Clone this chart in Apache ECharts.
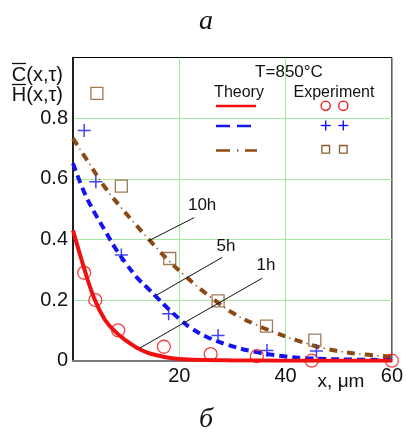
<!DOCTYPE html>
<html>
<head>
<meta charset="utf-8">
<script src="https://cdn.jsdelivr.net/npm/echarts@6/dist/echarts.min.js"></script>
<style>
  html, body { margin: 0; padding: 0; background: #fff; }
  #chart { width: 406px; height: 434px; }
</style>
</head>
<body>
<div id="chart"></div>
<script>
// tick labels (0 on x and 1.0 on y are not printed)
const xTickLabels = { 20: '20', 40: '40', 60: '60' }
const yTickLabels = { 0: '0', 0.2: '0.2', 0.4: '0.4', 0.6: '0.6', 0.8: '0.8' }

// theory curves, [x (um), C]
const theory1h = [[0, 0.43], [2, 0.31], [4, 0.205], [6, 0.135], [8, 0.095], [10, 0.066], [12, 0.043], [14, 0.027], [16, 0.017], [18, 0.01], [20, 0.006], [25, 0.002], [30, 0.001], [40, 0], [60, 0]]
const theory5h = [[0, 0.651], [2, 0.56], [4, 0.49], [6, 0.43], [8, 0.37], [10, 0.32], [12, 0.275], [14, 0.24], [16, 0.205], [18, 0.17], [20, 0.138], [22, 0.11], [25, 0.08], [29, 0.053], [34, 0.03], [39, 0.016], [44, 0.008], [52, 0.004], [60, 0.002]]
const theory10h = [[0, 0.733], [3, 0.652], [6, 0.572], [9, 0.506], [12, 0.445], [15, 0.386], [18, 0.33], [21, 0.281], [24, 0.236], [27, 0.195], [30, 0.158], [34, 0.122], [38, 0.093], [43, 0.062], [48, 0.038], [54, 0.022], [60, 0.014]]

// experiment points
const exp1h = [[2.1, 0.29], [4.2, 0.2], [8.5, 0.1], [17.1, 0.046], [25.9, 0.022], [34.6, 0.015], [44.9, 0], [60, 0]]
const exp5h = [[2.1, 0.759], [4.3, 0.59], [9.1, 0.349], [18, 0.155], [27.3, 0.083], [36.5, 0.034], [45.8, 0.032]]
const exp10h = [[4.5, 0.882], [9.1, 0.576], [18.2, 0.337], [27.3, 0.197], [36.4, 0.114], [45.5, 0.068]]

// annotation labels: text, text position, leader line from, leader line to
const notes = [
  { text: '10h', at: [24.3, 0.513], from: [22.8, 0.472], to: [14.2, 0.395] },
  { text: '5h', at: [28.8, 0.377], from: [28.1, 0.341], to: [15.8, 0.217] },
  { text: '1h', at: [36.3, 0.314], from: [35.6, 0.272], to: [12.5, 0.041] }
]

const RED = '#f01010'
const BLUE = '#1414f0'
const BROWN = '#8b4a14'
const SQ = '#8b5a2b'
const GREEN = '#a6e8a6'
const FONT = '"Liberation Sans", Arial, sans-serif'
const PLUS = 'path://M0,6L12,6M6,0L6,12'

const chart = echarts.init(document.getElementById('chart'), null, { renderer: 'canvas' })

const hollow = (c) => ({ color: 'rgba(0,0,0,0)', borderColor: c, borderWidth: 1.3 })

chart.setOption({
  animation: false,
  grid: { left: 73, right: 12, top: 57.5, bottom: 73.3, show: true, borderColor: '#000', borderWidth: 1 },
  xAxis: {
    type: 'value', min: 0, max: 60, interval: 20,
    axisLine: { show: true, onZero: false, lineStyle: { color: '#7a7a7a', width: 2 } },
    axisTick: { show: false },
    axisLabel: { color: '#111', fontSize: 20, fontFamily: FONT, margin: 6, formatter: (v) => xTickLabels[v] || '' },
    splitLine: { show: true, showMinLine: false, showMaxLine: false, lineStyle: { color: GREEN, width: 1 } }
  },
  yAxis: {
    type: 'value', min: 0, max: 1, interval: 0.2,
    axisLine: { show: true, onZero: false, lineStyle: { color: '#000', width: 1.5 } },
    axisTick: { show: false },
    axisLabel: { color: '#111', fontSize: 20, fontFamily: FONT, margin: 5, formatter: (v) => yTickLabels[Math.round(v * 10) / 10] || '' },
    splitLine: { show: true, showMinLine: false, showMaxLine: false, lineStyle: { color: GREEN, width: 1 } }
  },
  series: [
    {
      type: 'line', data: theory10h, smooth: 0.4, symbol: 'none',
      lineStyle: { color: BROWN, width: 4, type: [8, 10], cap: 'butt' }
    },
    {
      type: 'line', data: theory10h, smooth: 0.4, symbol: 'none',
      lineStyle: { color: BROWN, width: 1.3, type: [1.5, 16.5], dashOffset: -12.2 }
    },
    {
      type: 'line', data: theory5h, smooth: 0.4, symbol: 'none',
      lineStyle: { color: BLUE, width: 4, type: [8, 5], cap: 'butt' }
    },
    {
      type: 'line', data: theory1h, smooth: 0.4, symbol: 'none',
      lineStyle: { color: RED, width: 4 }
    },
    { type: 'scatter', data: exp1h, symbol: 'circle', symbolSize: 13, itemStyle: hollow(RED), clip: false, z: 5 },
    { type: 'scatter', data: exp5h, symbol: PLUS, symbolSize: 13, itemStyle: { color: 'none', borderColor: BLUE, borderWidth: 1.5 }, clip: false, z: 5 },
    { type: 'scatter', data: exp10h, symbol: 'rect', symbolSize: 12, itemStyle: hollow(SQ), clip: false, z: 5 }
  ]
})

// legend block, axis names and captions
const txt = (x, y, text, size, extra) => ({
  type: 'text', x, y, z: 20,
  style: Object.assign({ text, fill: '#111', font: `${size}px ${FONT}`, textAlign: 'center', textVerticalAlign: 'middle' }, extra || {})
})
const seg = (x1, y1, x2, y2, color, w) => ({
  type: 'line', z: 20, shape: { x1, y1, x2, y2 }, style: { stroke: color, lineWidth: w }
})

const graphics = [
  txt(206, 22, 'а', 28, { font: 'italic 28px "Liberation Serif", serif' }),
  txt(206, 420, 'б', 28, { font: 'italic 28px "Liberation Serif", serif' }),
  txt(63, 75, 'C(x,τ)', 20, { textAlign: 'right' }),
  txt(63, 95, 'H(x,τ)', 20, { textAlign: 'right' }),
  seg(12, 63.5, 26, 63.5, '#111', 1.3),
  seg(12, 84.5, 26, 84.5, '#111', 1.3),
  txt(341, 382, 'x, μm', 19),
  txt(289, 72, 'T=850°C', 17),
  txt(239, 93, 'Theory', 16),
  txt(334, 93, 'Experiment', 16),
  seg(216, 106, 256, 106, RED, 2.5),
  seg(216, 126, 230, 126, BLUE, 2.5),
  seg(237, 126, 251, 126, BLUE, 2.5),
  seg(216, 150.5, 230, 150.5, BROWN, 2.5),
  seg(237, 150.5, 238.5, 150.5, BROWN, 2),
  seg(245, 150.5, 257, 150.5, BROWN, 2.5)
]
;[325.7, 343.3].forEach((cx) => {
  graphics.push({ type: 'circle', z: 20, shape: { cx, cy: 105.7, r: 4.6 }, style: { fill: 'none', stroke: RED, lineWidth: 1.3 } })
  graphics.push(seg(cx - 5, 125.5, cx + 5, 125.5, BLUE, 1.4))
  graphics.push(seg(cx, 120.5, cx, 130.5, BLUE, 1.4))
  graphics.push({ type: 'rect', z: 20, shape: { x: cx - 3.8, y: 145.5, width: 7.6, height: 7.6 }, style: { fill: 'none', stroke: SQ, lineWidth: 1.3 } })
})

// time labels with leader lines, placed in data coordinates
notes.forEach((n) => {
  const a = chart.convertToPixel({ gridIndex: 0 }, n.at)
  const p1 = chart.convertToPixel({ gridIndex: 0 }, n.from)
  const p2 = chart.convertToPixel({ gridIndex: 0 }, n.to)
  graphics.push(txt(a[0], a[1], n.text, 17))
  graphics.push(seg(p1[0], p1[1], p2[0], p2[1], '#111', 1))
})

chart.setOption({ graphic: graphics })
</script>
</body>
</html>
